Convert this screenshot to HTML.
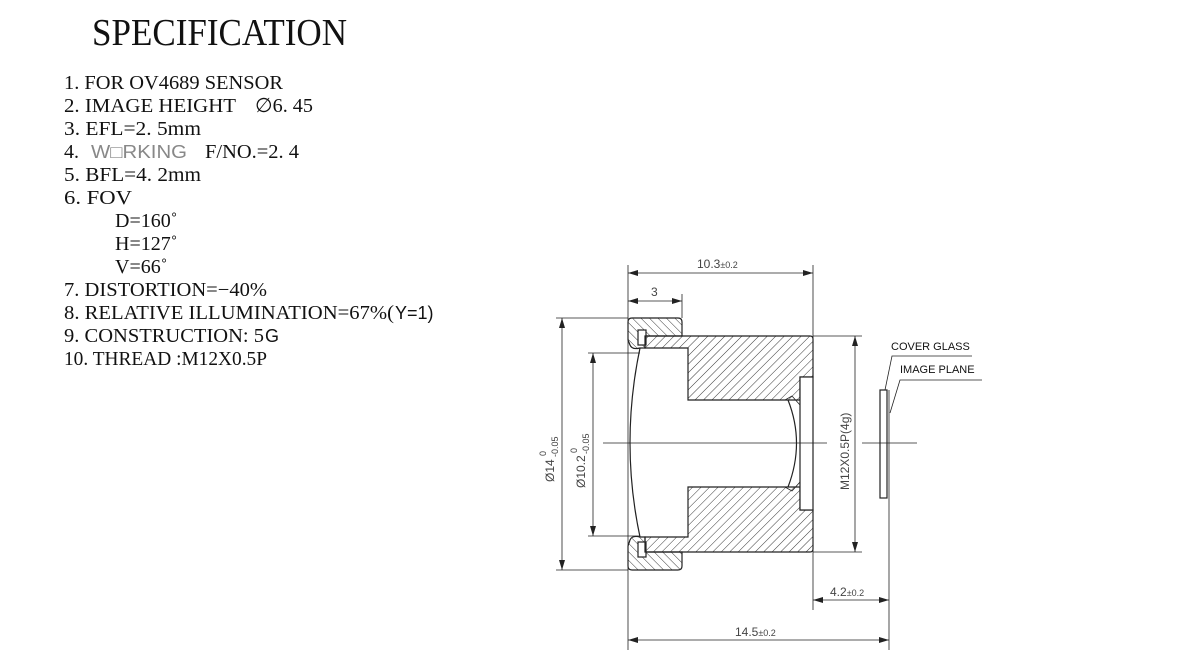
<!DOCTYPE html>
<html><head><meta charset="utf-8"><style>
html,body{margin:0;padding:0;background:#fff;}
svg{display:block}
.s{font-family:"Liberation Serif",serif;fill:#111}
.a{font-family:"Liberation Sans",sans-serif;fill:#333}
</style></head><body>
<svg width="1185" height="662" viewBox="0 0 1185 662" xmlns="http://www.w3.org/2000/svg">
<defs>
<pattern id="h1" patternUnits="userSpaceOnUse" width="6" height="6" patternTransform="rotate(45)">
<line x1="0" y1="0" x2="0" y2="6" stroke="#222" stroke-width="0.9"/></pattern>
<pattern id="h2" patternUnits="userSpaceOnUse" width="6" height="6" patternTransform="rotate(-45)">
<line x1="0" y1="0" x2="0" y2="6" stroke="#222" stroke-width="0.9"/></pattern>
<marker id="ar" viewBox="0 0 10 6" refX="10" refY="3" markerWidth="10" markerHeight="6" orient="auto-start-reverse" markerUnits="userSpaceOnUse">
<path d="M0,0 L10,3 L0,6 z" fill="#222"/></marker>
</defs>
<text class="s" x="92" y="45" font-size="38" textLength="255" lengthAdjust="spacingAndGlyphs">SPECIFICATION</text>
<g class="s" font-size="20">
<text x="64" y="89" textLength="219" lengthAdjust="spacingAndGlyphs">1.  FOR OV4689 SENSOR</text>
<text x="64" y="112" textLength="172" lengthAdjust="spacingAndGlyphs">2.  IMAGE HEIGHT</text>
<text x="255" y="112" textLength="58" lengthAdjust="spacingAndGlyphs">∅6. 45</text>
<text x="64" y="135" textLength="137" lengthAdjust="spacingAndGlyphs">3.  EFL=2. 5mm</text>
<text x="64" y="158">4.</text>
<text x="91" y="158" class="a" style="fill:#888" font-size="18" textLength="96" lengthAdjust="spacingAndGlyphs">W□RKING</text>
<text x="205" y="158" textLength="94" lengthAdjust="spacingAndGlyphs">F/NO.=2. 4</text>
<text x="64" y="181" textLength="137" lengthAdjust="spacingAndGlyphs">5.  BFL=4. 2mm</text>
<text x="64" y="204" textLength="68" lengthAdjust="spacingAndGlyphs">6.  FOV</text>
<text x="115" y="227">D=160˚</text>
<text x="115" y="250">H=127˚</text>
<text x="115" y="273">V=66˚</text>
<text x="64" y="296" textLength="203" lengthAdjust="spacingAndGlyphs">7.  DISTORTION=−40%</text>
<text x="64" y="319" textLength="330" lengthAdjust="spacingAndGlyphs">8.  RELATIVE ILLUMINATION=67%(</text>
<text x="395" y="319" class="a" style="fill:#111" font-size="18">Y=1)</text>
<text x="64" y="342" textLength="200" lengthAdjust="spacingAndGlyphs">9.  CONSTRUCTION: 5</text>
<text x="265" y="342" class="a" style="fill:#111" font-size="18">G</text>
<text x="64" y="365" textLength="203" lengthAdjust="spacingAndGlyphs">10. THREAD :M12X0.5P</text>
</g>

<g stroke="#222" stroke-width="1.2">
<path d="M632,318 H678 Q682,318 682,322 V336 H645 V348 H640 Q632,350 630,345 L628,340 V322 Q628,318 632,318 Z" fill="url(#h2)"/>
<path d="M632,570 H678 Q682,570 682,566 V552 H645 V537 H640 Q632,535 630,540 L628,546 V566 Q628,570 632,570 Z" fill="url(#h2)"/>
<rect x="638" y="330" width="8" height="15" fill="#fff"/>
<rect x="638" y="542" width="8" height="15" fill="#fff"/>
<path d="M645,336 H810 Q813,336 813,339 V377 H800 V400 H688 V348 H645 Z" fill="url(#h1)"/>
<path d="M645,552 H810 Q813,552 813,549 V510 H800 V487 H688 V537 H645 Z" fill="url(#h1)"/>
<rect x="800" y="377" width="13" height="133" fill="#fff"/>
<path d="M640,348 Q620,443 640,537" fill="none"/>
<path d="M788,400 Q805,443 788,487" fill="none"/>
<path d="M785,400 L792,396 L800,405" fill="none" stroke-width="0.8"/>
<path d="M785,487 L792,491 L800,482" fill="none" stroke-width="0.8"/>
<rect x="880" y="390" width="7" height="108" fill="#fff"/>
</g>
<g stroke="#222" stroke-width="0.8" fill="none">
<line x1="603" y1="443" x2="827" y2="443"/>
<line x1="862" y1="443" x2="917" y2="443"/>
<line x1="889" y1="390" x2="889" y2="650"/>
<line x1="628" y1="265" x2="628" y2="650"/>
<line x1="813" y1="265" x2="813" y2="610"/>
<line x1="682" y1="294" x2="682" y2="318"/>
<line x1="556" y1="318" x2="628" y2="318"/>
<line x1="556" y1="570" x2="628" y2="570"/>
<line x1="588" y1="353" x2="640" y2="353"/>
<line x1="588" y1="536" x2="640" y2="536"/>
<line x1="813" y1="336" x2="862" y2="336"/>
<line x1="813" y1="552" x2="862" y2="552"/>
<line x1="628" y1="273" x2="813" y2="273" marker-start="url(#ar)" marker-end="url(#ar)"/>
<line x1="628" y1="301" x2="682" y2="301" marker-start="url(#ar)" marker-end="url(#ar)"/>
<line x1="562" y1="318" x2="562" y2="570" marker-start="url(#ar)" marker-end="url(#ar)"/>
<line x1="593" y1="353" x2="593" y2="536" marker-start="url(#ar)" marker-end="url(#ar)"/>
<line x1="855" y1="336" x2="855" y2="552" marker-start="url(#ar)" marker-end="url(#ar)"/>
<line x1="813" y1="600" x2="889" y2="600" marker-start="url(#ar)" marker-end="url(#ar)"/>
<line x1="628" y1="640" x2="889" y2="640" marker-start="url(#ar)" marker-end="url(#ar)"/>
<polyline points="972,356 892,356 885,390"/>
<polyline points="982,380 900,380 890,413"/>
</g>
<g class="a" style="fill:#444" font-size="12">
<text x="697" y="268">10.3<tspan font-size="9">±0.2</tspan></text>
<text x="651" y="296">3</text>
<text x="830" y="596">4.2<tspan font-size="9">±0.2</tspan></text>
<text x="735" y="636">14.5<tspan font-size="9">±0.2</tspan></text>
<g transform="translate(554,482) rotate(-90)">
<text x="0" y="0">Ø14</text>
<text x="25" y="4" font-size="9">-0.05</text>
<text x="26" y="-8" font-size="9">0</text>
</g>
<g transform="translate(585,488) rotate(-90)">
<text x="0" y="0">Ø10.2</text>
<text x="34" y="4" font-size="9">-0.05</text>
<text x="35" y="-8" font-size="9">0</text>
</g>
<text transform="translate(849,490) rotate(-90)">M12X0.5P(4g)</text>
</g>
<g font-family="Liberation Sans,sans-serif" font-size="11" fill="#111">
<text x="891" y="350">COVER GLASS</text>
<text x="900" y="373">IMAGE PLANE</text>
</g>
</svg>
</body></html>
